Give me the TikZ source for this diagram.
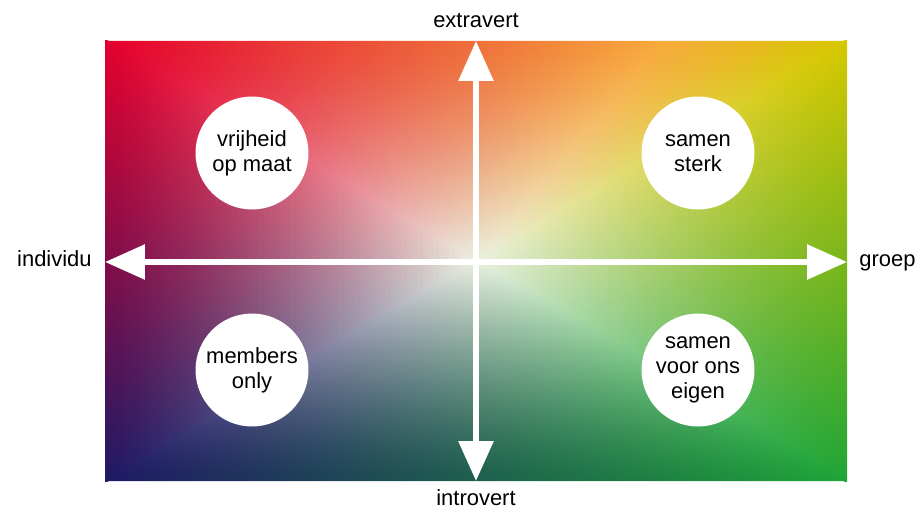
\documentclass[tikz,border=0pt]{standalone}
\usepackage{fontspec}
\setmainfont{Liberation Sans}
\usetikzlibrary{arrows.meta}

\definecolor{cornerTL}{RGB}{228,0,45}
\definecolor{cornerTR}{RGB}{215,200,0}
\definecolor{cornerBL}{RGB}{30,25,100}
\definecolor{cornerBR}{RGB}{30,165,55}
\definecolor{edgeT}{RGB}{238,112,58}
\definecolor{edgeTa}{RGB}{234,60,55}
\definecolor{edgeTb}{RGB}{248,170,60}
\definecolor{edgeL}{RGB}{122,50,76}
\definecolor{edgeR}{RGB}{140,185,65}
\definecolor{edgeB}{RGB}{45,75,82}
\definecolor{centerC}{RGB}{235,241,226}

\colorlet{stripA}{cornerTL}
\colorlet{stripB}{edgeTa}
\colorlet{stripC}{edgeT}
\colorlet{stripD}{edgeTb}
\colorlet{stripE}{cornerTR}
\pgfdeclareverticalshading[stripA,stripB,stripC,stripD,stripE]{topstrip}{100bp}{color(0bp)=(stripE);
  color(25bp)=(stripE); color(37.5bp)=(stripD); color(50bp)=(stripC); color(62.5bp)=(stripB);
  color(75bp)=(stripA); color(100bp)=(stripA)}

\begin{document}
\begin{tikzpicture}[x=0.02cm, y=-0.02cm,
    bubble/.style={circle, fill=white, minimum size=2.26cm, inner sep=0pt, align=center,
      font=\fontsize{12.5}{14.2}\selectfont},
    axislabel/.style={inner sep=0pt, font=\fontsize{12.5}{14.2}\selectfont},
    axisarrow/.style={white, line width=0.12cm,
      {Triangle[length=0.8cm,width=0.68cm]}-{Triangle[length=0.8cm,width=0.68cm]}}]
    \useasboundingbox (0,0) rectangle (917,510);
    \begin{scope}
    \clip (105,41) rectangle (847,481);
    % Background: left and right quarters
    \foreach \i in {0,...,69} {
      \pgfmathsetmacro\ca{\i/70}
      \pgfmathsetmacro\cb{(\i+1)/70}
      \pgfmathsetmacro\w{100*(1-((\i+0.5)/70)^1.35)}
      \shade[top color=cornerTL!\w!centerC, middle color=edgeL!\w!centerC, bottom color=cornerBL!\w!centerC]
        ({105+371*\ca},{41+221*\ca-2}) -- ({105+371*\cb+1},{41+221*\cb-2})
        -- ({105+371*\cb+1},{481-221*\cb+2}) -- ({105+371*\ca},{481-221*\ca+2}) -- cycle;
      \shade[top color=cornerTR!\w!centerC, middle color=edgeR!\w!centerC, bottom color=cornerBR!\w!centerC]
        ({847-371*\ca},{41+221*\ca-2}) -- ({847-371*\cb-1},{41+221*\cb-2})
        -- ({847-371*\cb-1},{481-221*\cb+2}) -- ({847-371*\ca},{481-221*\ca+2}) -- cycle;
    }
    % Background: top and bottom quarters
    \foreach \i in {0,...,69} {
      \pgfmathsetmacro\ca{\i/70}
      \pgfmathsetmacro\cb{(\i+1)/70}
      \pgfmathsetmacro\w{100*(1-((\i+0.5)/70)^1.35)}
      \colorlet{stripA}{cornerTL!\w!centerC}
      \colorlet{stripB}{edgeTa!\w!centerC}
      \colorlet{stripC}{edgeT!\w!centerC}
      \colorlet{stripD}{edgeTb!\w!centerC}
      \colorlet{stripE}{cornerTR!\w!centerC}
      \shade[shading=topstrip, shading angle=90]
        ({105+371*\ca},{41+221*\ca}) -- ({847-371*\ca},{41+221*\ca})
        -- ({847-371*\cb},{41+221*\cb+1}) -- ({105+371*\cb},{41+221*\cb+1}) -- cycle;
      \shade[left color=cornerBL!\w!centerC, middle color=edgeB!\w!centerC, right color=cornerBR!\w!centerC]
        ({105+371*\ca},{481-221*\ca}) -- ({847-371*\ca},{481-221*\ca})
        -- ({847-371*\cb},{481-221*\cb-1}) -- ({105+371*\cb},{481-221*\cb-1}) -- cycle;
    }
    \end{scope}
    % Axes
    \coordinate (west) at (105,262);
    \coordinate (east) at (847,262);
    \coordinate (north) at (476,41);
    \coordinate (south) at (476,481);
    \draw[axisarrow] (west) -- (east);
    \draw[axisarrow] (south) -- (north);
    \node[axislabel, anchor=base] (extravert) at (476,28) {extravert};
    \node[axislabel, anchor=base] (introvert) at (476,505) {introvert};
    \node[axislabel, anchor=base east] (individu) at (92,266) {individu};
    \node[axislabel, anchor=base west] (groep) at (859,266) {groep};
    % Quadrants
    \node[bubble] (vrijheid) at (252,153) {vrijheid\\op maat};
    \node[bubble] (sterk) at (698,153) {samen\\sterk};
    \node[bubble] (members) at (252,370) {members\\only};
    \node[bubble] (eigen) at (698,370) {samen\\voor ons\\eigen};
\end{tikzpicture}
\end{document}
